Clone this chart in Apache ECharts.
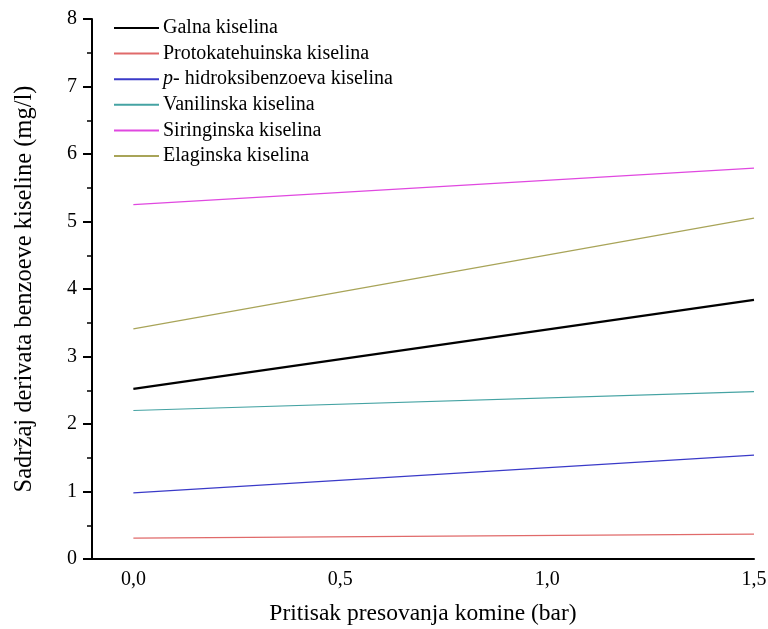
<!DOCTYPE html>
<html>
<head>
<meta charset="utf-8">
<script src="https://cdn.jsdelivr.net/npm/echarts@6/dist/echarts.min.js"></script>
<style>
  html, body { margin: 0; padding: 0; background: #fff; }
  #chart { width: 768px; height: 629px; }
</style>
</head>
<body>
<div id="chart"></div>
<script>
// pressure (bar) at the two ends of each fitted line
var pressure = [0, 1.5];
var galna = [2.52, 3.84];
var protokatehuinska = [0.31, 0.37];
var hidroksibenzoeva = [0.98, 1.54];
var vanilinska = [2.20, 2.48];
var siringinska = [5.25, 5.79];
var elaginska = [3.41, 5.05];
var xTicks = [0, 0.5, 1, 1.5];

var names = [
  'Galna kiselina',
  'Protokatehuinska kiselina',
  '{i|p}- hidroksibenzoeva kiselina',
  'Vanilinska kiselina',
  'Siringinska kiselina',
  'Elaginska kiselina'
];
var values = [galna, protokatehuinska, hidroksibenzoeva, vanilinska, siringinska, elaginska];
var colors = ['#000000', '#e06a6a', '#3a3ac8', '#45a3a3', '#e048e0', '#a8a458'];
var widths = [2.2, 1.2, 1.2, 1.2, 1.2, 1.2];

var font = 'Liberation Serif';

function pairs(arr) {
  return pressure.map(function (x, i) { return [x, arr[i]]; });
}

var chart = echarts.init(document.getElementById('chart'));

var option = {
  animation: false,
  textStyle: { fontFamily: font, color: '#000' },
  grid: { left: 92, right: 14, top: 19, bottom: 70, containLabel: false, outerBoundsMode: 'none' },
  legend: {
    left: 108,
    top: 13,
    orient: 'vertical',
    itemWidth: 45,
    itemHeight: 14,
    itemGap: 5.6,
    data: names,
    itemStyle: { opacity: 0 },
    textStyle: {
      fontFamily: font,
      fontSize: 20,
      color: '#000',
      padding: [0, 0, 0, -1],
      rich: { i: { fontFamily: font, fontStyle: 'italic', fontSize: 20 } }
    }
  },
  xAxis: {
    type: 'value',
    min: -0.1,
    max: 1.5,
    name: 'Pritisak presovanja komine (bar)',
    nameLocation: 'middle',
    nameGap: 43,
    nameTextStyle: { fontFamily: font, fontSize: 23.5, color: '#000' },
    axisLine: { onZero: false, lineStyle: { color: '#000', width: 2 } },
    axisTick: { show: false },
    splitLine: { show: false },
    axisLabel: {
      customValues: xTicks,
      margin: 11,
      fontFamily: font,
      fontSize: 20,
      color: '#000',
      formatter: function (v) { return v.toFixed(1).replace('.', ','); }
    }
  },
  yAxis: {
    type: 'value',
    min: 0,
    max: 8,
    interval: 1,
    name: 'Sadržaj derivata benzoeve kiseline (mg/l)',
    nameLocation: 'middle',
    nameGap: 55,
    nameTextStyle: { fontFamily: font, fontSize: 24.5, color: '#000' },
    axisLine: { show: true, onZero: false, lineStyle: { color: '#000', width: 2 } },
    axisTick: { show: true, length: 9, lineStyle: { color: '#000', width: 2 } },
    minorTick: { show: true, splitNumber: 2, length: 5, lineStyle: { color: '#000', width: 1.5 } },
    splitLine: { show: false },
    axisLabel: { margin: 15, fontFamily: font, fontSize: 20, color: '#000' }
  },
  series: names.map(function (n, i) {
    return {
      name: n,
      type: 'line',
      data: pairs(values[i]),
      symbol: 'none',
      color: colors[i],
      lineStyle: { color: colors[i], width: widths[i] }
    };
  })
};

chart.setOption(option);
</script>
</body>
</html>
